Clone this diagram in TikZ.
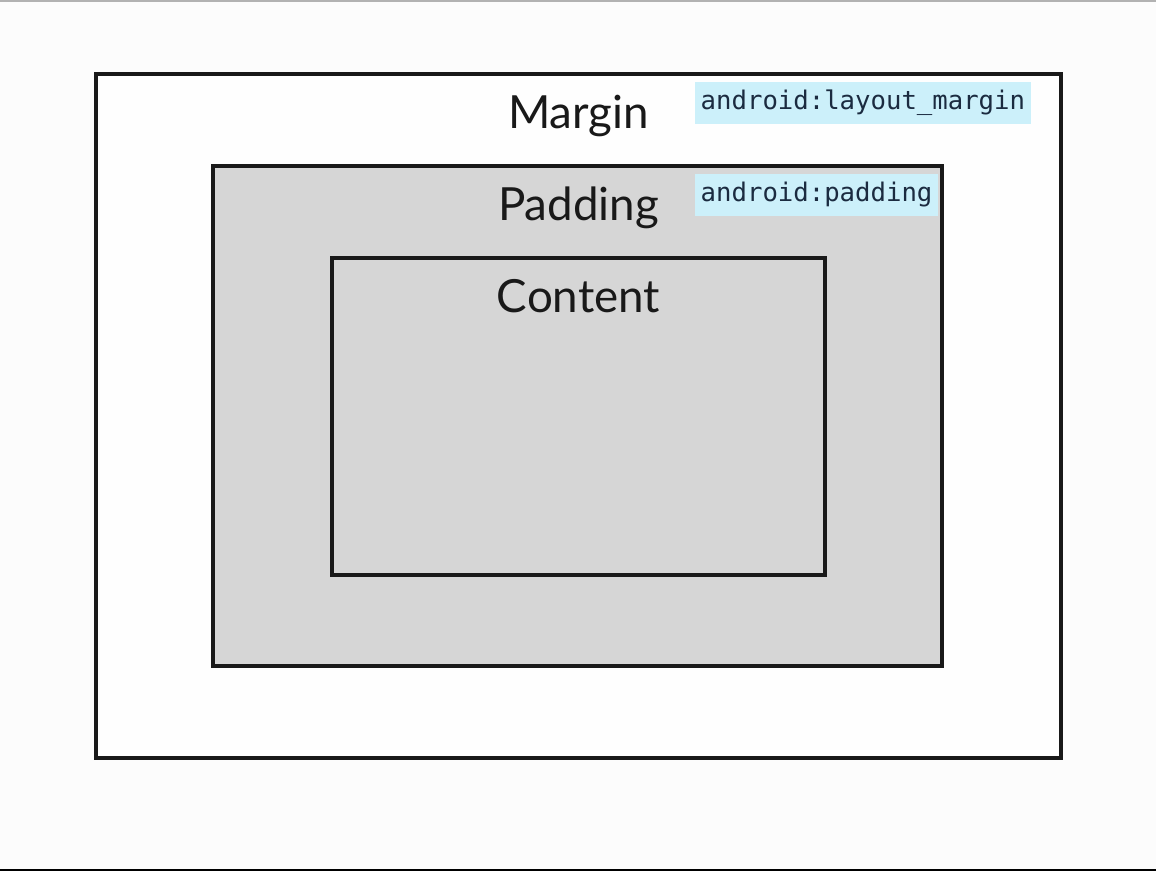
\documentclass[tikz,border=0pt]{standalone}
\usepackage{fontspec}
\setmainfont{Lato}
\setmonofont{DejaVu Sans Mono}
\usetikzlibrary{calc,positioning}

\definecolor{pagebg}{HTML}{FCFCFC}
\definecolor{boxgray}{HTML}{D6D6D6}
\definecolor{codebg}{HTML}{CCF0FA}
\definecolor{codefg}{HTML}{1B2B40}

\tikzset{
    boxline/.style={line width=0.035cm, draw=black!90},
    title/.style={font=\fontsize{13}{15}\selectfont, text=black!90, inner sep=0pt, anchor=base},
    attr/.style={fill=codebg, text=codefg, font=\ttfamily\fontsize{7.3}{9}\selectfont,
        inner xsep=0.06cm, inner ysep=0pt, minimum height=0.42cm, anchor=west}
}

\begin{document}
\begin{tikzpicture}
        \fill[pagebg] (0, 0) rectangle (11.56, 8.71);
        \useasboundingbox (0, 0) rectangle (11.56, 8.71);
        \draw[gray!60, line width=0.015cm] (0, 8.70) -- (11.56, 8.70);
        \draw[black, line width=0.025cm] (0, 0.01) -- (11.56, 0.01);

        % margin box
        \draw[boxline, fill=white!50!pagebg] (0.96, 1.13) coordinate (M1) rectangle (10.61, 7.97) coordinate (M2);
        % padding box
        \draw[boxline, fill=boxgray] (2.13, 2.05) coordinate (P1) rectangle (9.42, 7.05) coordinate (P2);
        % content box
        \draw[boxline, fill=boxgray] (3.32, 2.96) coordinate (C1) rectangle (8.25, 6.13) coordinate (C2);

        \node [title] (margin) at (5.785, 7.43) {Margin};
        \node [title] (padding) at (5.785, 6.51) {Padding};
        \node [title] (content) at (5.785, 5.59) {Content};

        \node [attr] (marginattr) at (6.94, 7.68) {android:layout\_margin};
        \node [attr] (paddingattr) at (6.94, 6.76) {android:padding};
    \end{tikzpicture}
\end{document}
